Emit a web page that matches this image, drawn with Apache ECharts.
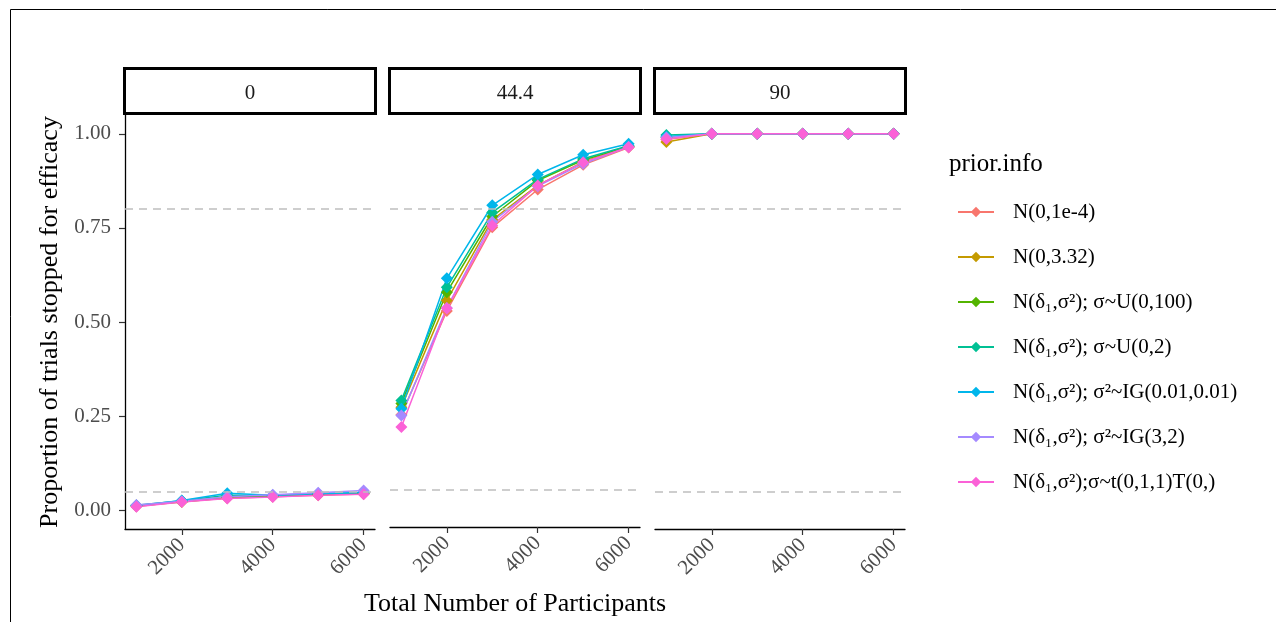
<!DOCTYPE html>
<html>
<head>
<meta charset="utf-8">
<script src="https://cdn.jsdelivr.net/npm/echarts@6/dist/echarts.min.js"></script>
<style>
  html, body { margin: 0; padding: 0; background: #fff; }
  #chart { width: 1276px; height: 622px; }
</style>
</head>
<body>
<div id="chart"></div>
<script>
// facets, x values, ticks
var facetLabels = ["0", "44.4", "90"];
var participants = [1000, 2000, 3000, 4000, 5000, 6000];
var xTicks = [2000, 4000, 6000];
var yTicks = [0, 0.25, 0.5, 0.75, 1];
var thresholds = [0.8, 0.05];

var priors = [
  "N(0,1e-4)",
  "N(0,3.32)",
  "N(δ₁,σ²); σ~U(0,100)",
  "N(δ₁,σ²); σ~U(0,2)",
  "N(δ₁,σ²); σ²~IG(0.01,0.01)",
  "N(δ₁,σ²); σ²~IG(3,2)",
  "N(δ₁,σ²);σ~t(0,1,1)T(0,)"
];
var colors = ["#F8766D", "#C49A00", "#53B400", "#00C094", "#00B6EB", "#A58AFF", "#FB61D7"];

// proportion stopped for efficacy, facet "0"
var eff0 = [
  [0.010, 0.023, 0.032, 0.036, 0.040, 0.043],
  [0.011, 0.022, 0.033, 0.037, 0.041, 0.044],
  [0.012, 0.024, 0.035, 0.038, 0.042, 0.045],
  [0.013, 0.025, 0.040, 0.039, 0.043, 0.046],
  [0.012, 0.026, 0.045, 0.040, 0.044, 0.047],
  [0.014, 0.024, 0.036, 0.041, 0.046, 0.052],
  [0.009, 0.022, 0.031, 0.035, 0.040, 0.042]
];
// facet "44.4"
var eff44 = [
  [0.250, 0.527, 0.750, 0.851, 0.917, 0.963],
  [0.270, 0.555, 0.770, 0.862, 0.925, 0.965],
  [0.280, 0.577, 0.779, 0.875, 0.930, 0.966],
  [0.288, 0.590, 0.790, 0.878, 0.933, 0.968],
  [0.266, 0.614, 0.809, 0.891, 0.944, 0.973],
  [0.248, 0.535, 0.765, 0.860, 0.920, 0.965],
  [0.217, 0.534, 0.755, 0.862, 0.924, 0.964]
];
// facet "90"
var eff90 = [
  [0.985, 1, 1, 1, 1, 1],
  [0.978, 1, 1, 1, 1, 1],
  [0.990, 1, 1, 1, 1, 1],
  [0.997, 1, 1, 1, 1, 1],
  [0.993, 1, 1, 1, 1, 1],
  [0.990, 1, 1, 1, 1, 1],
  [0.986, 1, 1, 1, 1, 1]
];
var panels = [eff0, eff44, eff90];

var chart = echarts.init(document.getElementById("chart"));
var font = "Liberation Serif, Times New Roman, serif";
var panelLeft = [125, 390, 655];
var panelW = 250;

var grids = [], xAxes = [], yAxes = [], series = [], graphics = [];

// outer frame
graphics.push({
  type: "rect",
  shape: { x: 10.5, y: 9.5, width: 1400, height: 800 },
  style: { fill: "none", stroke: "#000", lineWidth: 1 },
  silent: true
});

for (var p = 0; p < 3; p++) {
  grids.push({ left: panelLeft[p], top: 115, width: panelW, height: 414 });
  xAxes.push({
    type: "value",
    gridIndex: p,
    min: 750,
    max: 6250,
    name: p == 1 ? "Total Number of Participants" : "",
    nameLocation: "middle",
    nameGap: 64,
    nameTextStyle: { fontFamily: font, fontSize: 26, color: "#000" },
    axisLine: { show: true, onZero: false, lineStyle: { color: "#000", width: 1.3 } },
    axisTick: { show: true, length: 6, customValues: xTicks, lineStyle: { color: "#333", width: 1.2 } },
    axisLabel: {
      customValues: xTicks,
      rotate: 45,
      margin: 13,
      fontFamily: font,
      fontSize: 21,
      color: "#4D4D4D",
      formatter: function (v) { return String(v); }
    },
    splitLine: { show: false }
  });
  yAxes.push({
    type: "value",
    gridIndex: p,
    min: -0.05,
    max: 1.05,
    show: p == 0,
    name: p == 0 ? "Proportion of trials stopped for efficacy" : "",
    nameLocation: "middle",
    nameGap: 62,
    nameTextStyle: { fontFamily: font, fontSize: 26, color: "#000" },
    axisLine: { show: true, onZero: false, lineStyle: { color: "#000", width: 1.3 } },
    axisTick: { show: true, length: 6, customValues: yTicks, lineStyle: { color: "#333", width: 1.2 } },
    axisLabel: {
      customValues: yTicks,
      margin: 14,
      fontFamily: font,
      fontSize: 21,
      color: "#4D4D4D",
      formatter: function (v) { return v.toFixed(2); }
    },
    splitLine: { show: false }
  });

  // dashed reference lines
  series.push({
    type: "line",
    xAxisIndex: p,
    yAxisIndex: p,
    data: [],
    z: 1,
    markLine: {
      silent: true,
      symbol: "none",
      label: { show: false },
      lineStyle: { color: "#BEBEBE", type: [8, 6], width: 1.5 },
      data: thresholds.map(function (t) { return { yAxis: t }; })
    }
  });

  for (var k = 0; k < priors.length; k++) {
    series.push({
      type: "line",
      name: priors[k],
      xAxisIndex: p,
      yAxisIndex: p,
      z: 2,
      symbol: "diamond",
      symbolSize: 12,
      color: colors[k],
      lineStyle: { width: 1.5 },
      data: participants.map(function (x, i) { return [x, panels[p][k][i]]; })
    });
  }

  // strip
  graphics.push({
    type: "rect",
    shape: { x: panelLeft[p] - 0.5, y: 68.5, width: panelW + 1, height: 45 },
    style: { fill: "#fff", stroke: "#000", lineWidth: 3 },
    silent: true
  });
  graphics.push({
    type: "text",
    x: panelLeft[p] + panelW / 2,
    y: 93,
    style: {
      text: facetLabels[p],
      fill: "#1A1A1A",
      font: "21px " + font,
      align: "center",
      verticalAlign: "middle"
    },
    silent: true
  });
}

var option = {
  animation: false,
  backgroundColor: "#fff",
  title: {
    text: "prior.info",
    left: 944,
    top: 147,
    textStyle: { fontFamily: font, fontSize: 25, fontWeight: "normal", color: "#000" }
  },
  legend: {
    orient: "vertical",
    left: 952,
    top: 196,
    itemWidth: 36,
    itemHeight: 13,
    itemGap: 23,
    data: priors,
    textStyle: {
      fontFamily: font,
      fontSize: 21,
      color: "#000",
      lineHeight: 22,
      padding: [0, 0, 0, 14]
    }
  },
  grid: grids,
  xAxis: xAxes,
  yAxis: yAxes,
  series: series,
  graphic: graphics
};
chart.setOption(option);
</script>
</body>
</html>
